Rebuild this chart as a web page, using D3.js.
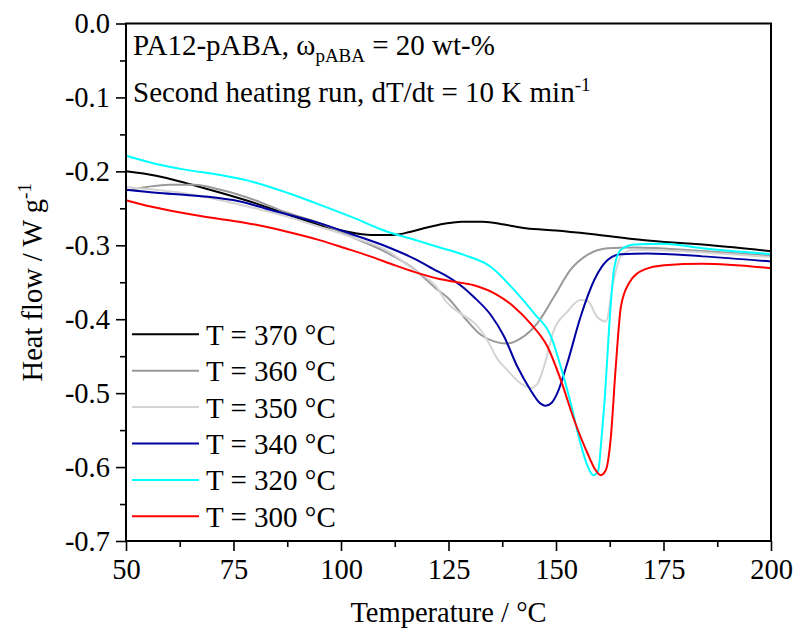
<!DOCTYPE html>
<html>
<head>
<meta charset="utf-8">
<script src="https://cdn.jsdelivr.net/npm/d3@7"></script>
<style>
	body { margin: 0; background: #fff; }
	svg { font-family: "Liberation Serif", "Times New Roman", serif; }
</style>
</head>
<body>
<div class="chart"></div>
<script>
// DSC traces, [temperature °C, heat flow W/g]
var curve370 = [[50,-0.200],[57,-0.206],[64,-0.216],[72,-0.229],[80,-0.243],[88,-0.259],[95,-0.273],[101,-0.281],[107,-0.286],[112,-0.286],[116,-0.282],[120,-0.276],[124,-0.271],[128,-0.268],[133,-0.268],[138,-0.272],[143,-0.277],[150,-0.280],[160,-0.286],[172,-0.294],[186,-0.300],[200,-0.308]];
var curve360 = [[50,-0.226],[55,-0.221],[60,-0.218],[66,-0.218],[72,-0.225],[80,-0.239],[87,-0.255],[95,-0.270],[103,-0.290],[110,-0.308],[117,-0.332],[122,-0.358],[125,-0.372],[128.6,-0.397],[132.5,-0.421],[135.6,-0.430],[138.5,-0.433],[141.8,-0.426],[145.6,-0.406],[149.5,-0.370],[153.4,-0.333],[157.3,-0.313],[162,-0.304],[168,-0.303],[185,-0.308],[200,-0.314]];
var curve350 = [[50,-0.221],[57,-0.225],[64,-0.230],[72,-0.239],[80,-0.250],[88,-0.262],[95,-0.275],[103,-0.290],[110,-0.305],[117,-0.333],[122,-0.355],[124.7,-0.378],[128,-0.393],[131,-0.405],[134,-0.428],[136.3,-0.453],[138.7,-0.469],[141.8,-0.487],[144.1,-0.493],[145.7,-0.487],[147.2,-0.464],[149.5,-0.415],[152.6,-0.390],[155.7,-0.374],[157.3,-0.375],[159.6,-0.397],[161.6,-0.403],[163.3,-0.350],[165.1,-0.315],[168,-0.306],[185,-0.310],[200,-0.316]];
var curve340 = [[50,-0.225],[57,-0.229],[64,-0.232],[70,-0.235],[76,-0.240],[83.5,-0.252],[95,-0.270],[103,-0.286],[110.7,-0.302],[117,-0.318],[122.4,-0.335],[124.7,-0.342],[128,-0.355],[130.9,-0.370],[134.8,-0.394],[137.9,-0.423],[141,-0.464],[144.1,-0.496],[146,-0.512],[147.6,-0.517],[149,-0.513],[150.3,-0.500],[152.6,-0.460],[155.7,-0.397],[158.9,-0.347],[162,-0.320],[165.1,-0.312],[171.3,-0.311],[184,-0.315],[200,-0.322]];
var curve320 = [[50,-0.179],[57,-0.190],[64,-0.198],[72,-0.205],[80,-0.215],[88,-0.230],[95,-0.245],[103,-0.263],[110,-0.280],[118,-0.294],[122.4,-0.302],[128.6,-0.313],[134.8,-0.329],[140.2,-0.360],[144.9,-0.392],[148.8,-0.423],[151.1,-0.464],[153.4,-0.513],[155.7,-0.568],[157.3,-0.598],[158.7,-0.611],[159.8,-0.605],[160.6,-0.560],[161.2,-0.518],[162.7,-0.383],[163.5,-0.332],[165.1,-0.306],[168.2,-0.299],[175,-0.298],[184,-0.304],[200,-0.312]];
var curve300 = [[50,-0.239],[56,-0.248],[62,-0.255],[68,-0.261],[75,-0.267],[80,-0.272],[87,-0.281],[95,-0.293],[101,-0.304],[106.8,-0.315],[112,-0.326],[117,-0.336],[122.4,-0.345],[126,-0.349],[130.9,-0.354],[136.3,-0.367],[140.2,-0.383],[144.1,-0.406],[148,-0.437],[151.1,-0.482],[154.2,-0.536],[157.3,-0.581],[159.2,-0.604],[160.4,-0.611],[161.6,-0.604],[162.7,-0.563],[163.9,-0.464],[165.1,-0.383],[167,-0.351],[170.5,-0.333],[175.2,-0.327],[184,-0.325],[200,-0.331]];

var seriesNames = ['T = 370 °C', 'T = 360 °C', 'T = 350 °C', 'T = 340 °C', 'T = 320 °C', 'T = 300 °C'];
var seriesData = [curve370, curve360, curve350, curve340, curve320, curve300];
var seriesColors = ['#000000', '#999999', '#d4d4d4', '#0000a0', '#00ffff', '#ff0000'];

var xTicks = [50, 75, 100, 125, 150, 175, 200];
var yTicks = [0, -0.1, -0.2, -0.3, -0.4, -0.5, -0.6, -0.7];

var width = 794, height = 637;
// plot box edges (note: "top" is reserved on window, so prefix them)
var plotL = 126, plotR = 771, plotT = 23.5, plotB = 541;

var svg = d3.select('.chart').append('svg')
	.attr('width', width)
	.attr('height', height);

var x = d3.scaleLinear().domain([50, 200]).range([plotL, plotR]);
var y = d3.scaleLinear().domain([-0.7, 0]).range([plotB, plotT]);

// minor ticks
var xMinor = d3.range(62.5, 200, 25);
var yMinor = d3.range(-0.65, 0, 0.1);

svg.append('g')
	.attr('transform', 'translate(0,' + plotB + ')')
	.call(d3.axisBottom(x).tickValues(xMinor).tickSize(6).tickSizeOuter(0).tickFormat(''))
	.call(function(g) { g.select('.domain').remove(); g.selectAll('line').attr('stroke-width', 1.6); });
svg.append('g')
	.attr('transform', 'translate(' + plotL + ',0)')
	.call(d3.axisLeft(y).tickValues(yMinor).tickSize(6).tickSizeOuter(0).tickFormat(''))
	.call(function(g) { g.select('.domain').remove(); g.selectAll('line').attr('stroke-width', 1.6); });

// major ticks + labels
var xAxis = svg.append('g')
	.attr('transform', 'translate(0,' + plotB + ')')
	.call(d3.axisBottom(x).tickValues(xTicks).tickSize(10).tickSizeOuter(0).tickPadding(8));
xAxis.select('.domain').remove();
xAxis.selectAll('line').attr('stroke-width', 1.6);
xAxis.selectAll('text')
	.attr('font-size', 28.5)
	.attr('font-family', '"Liberation Serif", serif')
	.attr('fill', '#000');

var yAxis = svg.append('g')
	.attr('transform', 'translate(' + plotL + ',0)')
	.call(d3.axisLeft(y).tickValues(yTicks).tickSize(10).tickSizeOuter(0).tickPadding(6)
		.tickFormat(function(d) { return d.toFixed(1); }));
yAxis.select('.domain').remove();
yAxis.selectAll('line').attr('stroke-width', 1.6);
yAxis.selectAll('text')
	.attr('font-size', 28.5)
	.attr('font-family', '"Liberation Serif", serif')
	.attr('fill', '#000');

// curves
var line = d3.line()
	.x(function(d) { return x(d[0]); })
	.y(function(d) { return y(d[1]); })
	.curve(d3.curveMonotoneX);

var curves = svg.append('g').attr('class', 'curves');
seriesData.forEach(function(data, i) {
	curves.append('path')
		.attr('d', line(data))
		.attr('fill', 'none')
		.attr('stroke', seriesColors[i])
		.attr('stroke-width', 2);
});

// frame
svg.append('rect')
	.attr('x', plotL).attr('y', plotT)
	.attr('width', plotR - plotL).attr('height', plotB - plotT)
	.attr('fill', 'none')
	.attr('stroke', '#000')
	.attr('stroke-width', 2);

// legend
var legend = svg.append('g').attr('class', 'legend');
seriesNames.forEach(function(name, i) {
	var ly = 334.3 + i * 36.4;
	legend.append('line')
		.attr('x1', 132).attr('x2', 199)
		.attr('y1', ly).attr('y2', ly)
		.attr('stroke', seriesColors[i])
		.attr('stroke-width', 2);
	legend.append('text')
		.attr('x', 206).attr('y', ly + 10.5)
		.attr('font-size', 29)
		.text(name);
});

// annotations
var note1 = svg.append('text').attr('x', 133).attr('y', 55).attr('font-size', 29);
note1.append('tspan').text('PA12-pABA, ω');
note1.append('tspan').attr('dy', 7).attr('font-size', 19).text('pABA');
note1.append('tspan').attr('dy', -7).text(' = 20 wt-%');

var note2 = svg.append('text').attr('x', 133).attr('y', 102).attr('font-size', 29);
note2.append('tspan').text('Second heating run, dT/dt = 10 K min');
note2.append('tspan').attr('dy', -11).attr('font-size', 19).text('-1');

// axis titles
svg.append('text')
	.attr('x', (plotL + plotR) / 2).attr('y', 622)
	.attr('text-anchor', 'middle')
	.attr('font-size', 28.5)
	.text('Temperature / °C');

var yTitle = svg.append('text')
	.attr('transform', 'translate(42,' + ((plotT + plotB) / 2) + ') rotate(-90)')
	.attr('text-anchor', 'middle')
	.attr('font-size', 28.5);
yTitle.append('tspan').text('Heat flow / W g');
yTitle.append('tspan').attr('dy', -11).attr('font-size', 19).text('-1');
</script>
</body>
</html>
